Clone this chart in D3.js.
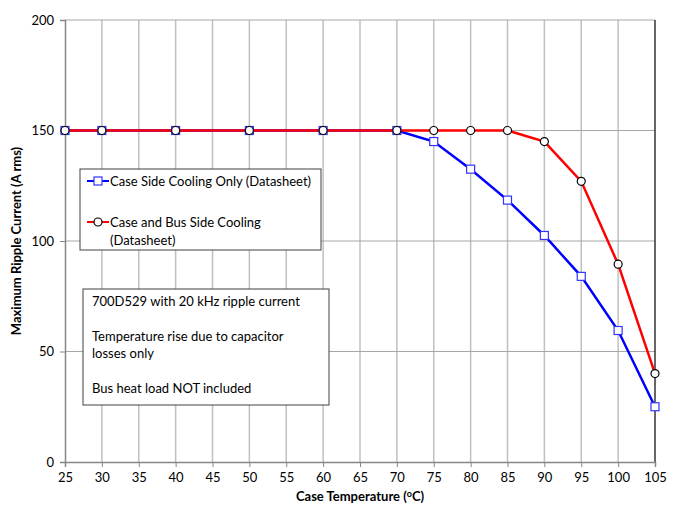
<!DOCTYPE html>
<html>
<head>
<meta charset="utf-8">
<script src="https://cdn.jsdelivr.net/npm/d3@7"></script>
<style>
  body { margin: 0; background: #fff; }
  text { font-family: Lato, "Open Sans", sans-serif; fill: #000; }
</style>
</head>
<body>
<svg id="chart" width="680" height="508"></svg>
<script>
// data
var temps = [25, 30, 40, 50, 60, 70, 75, 80, 85, 90, 95, 100, 105]
var caseOnly = [150, 150, 150, 150, 150, 150, 145, 132.5, 118.5, 102.5, 84, 59.5, 25]
var caseAndBus = [150, 150, 150, 150, 150, 150, 150, 150, 150, 145, 127, 89.5, 40]
var xTicks = [25, 30, 35, 40, 45, 50, 55, 60, 65, 70, 75, 80, 85, 90, 95, 100, 105]
var yTicks = [0, 50, 100, 150, 200]
var legendLabels = [["Case Side Cooling Only (Datasheet)"], ["Case and Bus Side Cooling", "(Datasheet)"]]
var noteLines = ["700D529 with 20 kHz ripple current", "", "Temperature rise due to capacitor", "losses only", "", "Bus heat load NOT included"]

var svg = d3.select("#chart")
var plotLeft = 65, plotRight = 655, plotTop = 20, plotBottom = 462

var x = d3.scaleLinear().domain([25, 105]).range([plotLeft, plotRight])
var y = d3.scaleLinear().domain([0, 200]).range([plotBottom, plotTop])

// grid lines
svg.selectAll(".vgrid").data(xTicks.slice(1, -1)).enter().append("line")
    .attr("x1", d => x(d)).attr("x2", d => x(d))
    .attr("y1", plotTop).attr("y2", plotBottom)
    .attr("stroke", "#c0c0c0").attr("stroke-width", 1.5)
svg.selectAll(".hgrid").data(yTicks.slice(1)).enter().append("line")
    .attr("x1", plotLeft).attr("x2", plotRight)
    .attr("y1", d => y(d)).attr("y2", d => y(d))
    .attr("stroke", "#a6a6a6").attr("stroke-width", 1)

// right border
svg.append("line").attr("x1", plotRight).attr("x2", plotRight).attr("y1", plotTop).attr("y2", plotBottom)
    .attr("stroke", "#000").attr("stroke-width", 1.2)

// axes
var xAxis = svg.append("g").attr("transform", "translate(0," + plotBottom + ")")
    .call(d3.axisBottom(x).tickValues(xTicks).tickSize(5).tickPadding(6))
var yAxis = svg.append("g").attr("transform", "translate(" + plotLeft + ",0)")
    .call(d3.axisLeft(y).tickValues(yTicks).tickSize(5).tickPadding(6))
;[xAxis, yAxis].forEach(function(g) {
    g.select(".domain").attr("stroke", "#868686").attr("stroke-width", 1.5)
    g.selectAll(".tick line").attr("stroke", "#868686")
    g.selectAll("text").style("font-size", "13px").attr("fill", "#000")
})

// axis titles
var xt = svg.append("text").attr("x", (plotLeft + plotRight) / 2).attr("y", 501)
    .attr("text-anchor", "middle").style("font-size", "13px").style("font-weight", "bold")
xt.append("tspan").text("Case Temperature (")
xt.append("tspan").text("o").attr("dy", -4).style("font-size", "9px")
xt.append("tspan").text("C)").attr("dy", 4)

svg.append("text").attr("transform", "translate(21," + ((plotTop + plotBottom) / 2) + ") rotate(-90)")
    .attr("text-anchor", "middle").style("font-size", "13px").style("font-weight", "bold")
    .text("Maximum Ripple Current (A rms)")

// series
var line = d3.line().x(d => x(d[0])).y(d => y(d[1]))
var blueData = temps.map((t, i) => [t, caseOnly[i]])
var redData = temps.map((t, i) => [t, caseAndBus[i]])

svg.append("path").datum(blueData).attr("d", line)
    .attr("fill", "none").attr("stroke", "#0000ff").attr("stroke-width", 2.5)
svg.append("path").datum(redData).attr("d", line)
    .attr("fill", "none").attr("stroke", "#ff0000").attr("stroke-width", 2.5)

svg.selectAll(".sq").data(blueData).enter().append("rect")
    .attr("x", d => x(d[0]) - 4).attr("y", d => y(d[1]) - 4)
    .attr("width", 8).attr("height", 8)
    .attr("fill", "#fff").attr("stroke", "#3333ff").attr("stroke-width", 1.2)
svg.selectAll(".ci").data(redData).enter().append("circle")
    .attr("cx", d => x(d[0])).attr("cy", d => y(d[1])).attr("r", 4)
    .attr("fill", "#fff").attr("stroke", "#000").attr("stroke-width", 1.2)

// legend box
var lg = svg.append("g")
lg.append("rect").attr("x", 80).attr("y", 169).attr("width", 241).attr("height", 81)
    .attr("fill", "#fff").attr("stroke", "#404040").attr("stroke-width", 1)
var legendY = [181, 222]
legendLabels.forEach(function(lines, i) {
    var yy = legendY[i]
    lg.append("line").attr("x1", 87).attr("x2", 109).attr("y1", yy).attr("y2", yy)
        .attr("stroke", i == 0 ? "#0000ff" : "#ff0000").attr("stroke-width", 2)
    if (i == 0) {
        lg.append("rect").attr("x", 94).attr("y", yy - 4).attr("width", 8).attr("height", 8)
            .attr("fill", "#fff").attr("stroke", "#3333ff").attr("stroke-width", 1.2)
    } else {
        lg.append("circle").attr("cx", 98).attr("cy", yy).attr("r", 4)
            .attr("fill", "#fff").attr("stroke", "#000").attr("stroke-width", 1.2)
    }
    lines.forEach(function(s, j) {
        lg.append("text").attr("x", 110).attr("y", yy + 4.5 + j * 18)
            .style("font-size", "13px").text(s)
    })
})

// note box
var nb = svg.append("g")
nb.append("rect").attr("x", 83).attr("y", 289).attr("width", 246).attr("height", 116)
    .attr("fill", "#fff").attr("stroke", "#404040").attr("stroke-width", 1)
noteLines.forEach(function(s, i) {
    nb.append("text").attr("x", 92).attr("y", 306 + i * 17.3)
        .style("font-size", "13px").text(s)
})
</script>
</body>
</html>
